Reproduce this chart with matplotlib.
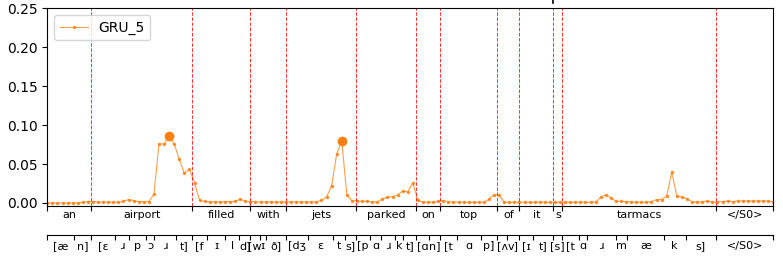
import numpy as np
import matplotlib
matplotlib.use("Agg")
import matplotlib.pyplot as plt

# ── Data ─────────────────────────────────────────────────────────────────────
# attention weight per frame (GRU_5)
gru_5 = [
    0.0000, 0.0000, 0.0000, 0.0000, 0.0000, 0.0000, 0.0000, 0.0009, 0.0017, 0.0017,
    0.0013, 0.0009, 0.0009, 0.0009, 0.0009, 0.0022, 0.0043, 0.0030, 0.0017, 0.0013,
    0.0017, 0.0112, 0.0758, 0.0758, 0.0860, 0.0758, 0.0560, 0.0380, 0.0435, 0.0259,
    0.0034, 0.0022, 0.0013, 0.0013, 0.0013, 0.0017, 0.0013, 0.0022, 0.0047, 0.0022,
    0.0017, 0.0013, 0.0013, 0.0013, 0.0013, 0.0013, 0.0013, 0.0013, 0.0013, 0.0013,
    0.0013, 0.0013, 0.0013, 0.0013, 0.0035, 0.0073, 0.0222, 0.0630, 0.0800, 0.0103,
    0.0030, 0.0026, 0.0022, 0.0022, 0.0013, 0.0013, 0.0052, 0.0073, 0.0082, 0.0099,
    0.0155, 0.0142, 0.0260, 0.0034, 0.0009, 0.0009, 0.0009, 0.0022, 0.0030, 0.0017,
    0.0009, 0.0009, 0.0009, 0.0009, 0.0009, 0.0009, 0.0009, 0.0047, 0.0108, 0.0103,
    0.0009, 0.0009, 0.0009, 0.0009, 0.0009, 0.0009, 0.0009, 0.0009, 0.0009, 0.0009,
    0.0009, 0.0009, 0.0009, 0.0009, 0.0009, 0.0009, 0.0009, 0.0009, 0.0009, 0.0073,
    0.0103, 0.0069, 0.0022, 0.0022, 0.0017, 0.0009, 0.0009, 0.0009, 0.0009, 0.0017,
    0.0043, 0.0043, 0.0086, 0.0397, 0.0086, 0.0073, 0.0052, 0.0013, 0.0013, 0.0013,
    0.0026, 0.0013, 0.0013, 0.0017, 0.0026, 0.0017, 0.0026, 0.0026, 0.0026, 0.0026,
    0.0026, 0.0026, 0.0026, 0.0017,
]
peaks = [24, 58]

words = ["an", "airport", "filled", "with", "jets", "parked", "on", "top",
         "of", "it", "s", "tarmacs", "</S0>"]
word_bounds = [0, 8.67, 28.56, 39.98, 47.08, 60.86, 72.68, 77.41, 88.64,
               92.97, 99.67, 101.44, 131.77, 143]

phones = ["[æ", "n]", "[ɛ", "ɹ", "p", "ɔ", "ɹ", "t]", "[f", "ɪ", "l", "d]",
          "[w", "ɪ", "ð]", "[dʒ", "ɛ", "t", "s]", "[p", "ɑ", "ɹ", "k", "t]",
          "[ɑ", "n]", "[t", "ɑ", "p]", "[ʌ", "v]", "[ɪ", "t]", "[s]",
          "[t", "ɑ", "ɹ", "m", "æ", "k", "s]", "</S0>"]
phone_bounds = [0, 5.26, 8.67, 13.39, 16.15, 19.44, 21.02, 25.35, 28.56,
                31.40, 35.06, 37.82, 39.98, 41.84, 43.08, 47.08, 51.29, 56.27,
                58.64, 60.86, 63.56, 65.73, 68.49, 70.06, 72.68, 75.14, 77.41,
                80.64, 85.43, 88.64, 90.55, 92.97, 95.73, 99.67, 101.44, 104.79,
                106.25, 111.96, 114.24, 121.41, 125.74, 131.77, 143]

ORANGE = "#ff7f0e"

# ── Plot ─────────────────────────────────────────────────────────────────────
x = np.arange(len(gru_5))
y = np.array(gru_5)

fig = plt.figure(figsize=(7.83, 2.66), dpi=100)
ax = fig.add_axes([0.0604, 0.2244, 0.9272, 0.7444])

ax.plot(x, y, color=ORANGE, alpha=0.75, linewidth=0.8, marker=".",
        markersize=3, label="GRU_5")
ax.plot(x[peaks], y[peaks], "o", color=ORANGE, markersize=6)

for b in word_bounds[1:-1]:
    ax.axvline(b, color="red", linestyle="--", linewidth=0.7, alpha=0.8)

ax.set_xlim(word_bounds[0], word_bounds[-1])
ax.set_ylim(-0.0043, 0.25)
ax.set_yticks([0, 0.05, 0.10, 0.15, 0.20, 0.25])
ax.legend(loc="upper left")

# word row
w_centers = [(a + b) / 2 for a, b in zip(word_bounds[:-1], word_bounds[1:])]
ax.set_xticks(word_bounds)
ax.set_xticklabels([])
ax.set_xticks(w_centers, words, minor=True)
ax.tick_params(axis="x", which="minor", length=0, labelsize=8, pad=3)

# phoneme row
sec = ax.secondary_xaxis(-0.146)
p_centers = [(a + b) / 2 for a, b in zip(phone_bounds[:-1], phone_bounds[1:])]
sec.set_xticks(phone_bounds)
sec.set_xticklabels([])
sec.set_xticks(p_centers, phones, minor=True)
sec.tick_params(axis="x", which="minor", length=0, labelsize=8, pad=4.5)

# small mark above the frame at the it/s boundary
ax.plot([word_bounds[10], word_bounds[10]], [1.028, 1.07], color="black",
        linewidth=1.2, transform=ax.get_xaxis_transform(), clip_on=False)

fig.savefig("out.png", dpi=100)
